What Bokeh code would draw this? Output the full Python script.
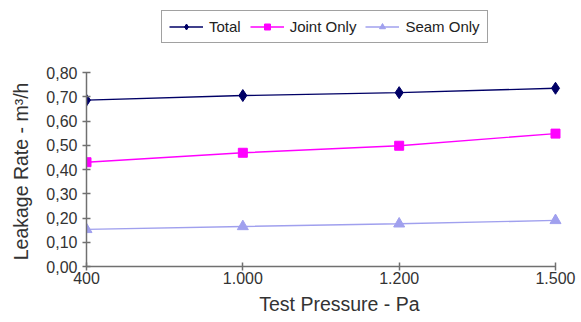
from bokeh.plotting import figure
from bokeh.models import FixedTicker, Legend, LegendItem
from bokeh.embed import file_html
from bokeh.resources import INLINE

categories = ["400", "1.000", "1.200", "1.500"]
total = [0.686, 0.705, 0.717, 0.735]
joint_only = [0.430, 0.469, 0.498, 0.548]
seam_only = [0.153, 0.165, 0.176, 0.190]
y_ticks = [0.0, 0.1, 0.2, 0.3, 0.4, 0.5, 0.6, 0.7, 0.8]
y_tick_labels = ["0,00", "0,10", "0,20", "0,30", "0,40", "0,50", "0,60", "0,70", "0,80"]

xs = list(range(len(categories)))

# frame spans to the canvas top and right edge; axes are bounded to the data area
W, H = 581, 322
LEFT, BOTTOM = 86, 56
x_end = (len(categories) - 1) * (W - LEFT) / (555 - LEFT)
y_end = 0.8 * (H - BOTTOM) / (266 - 72)

p = figure(width=W, height=H, output_backend="svg", toolbar_location=None,
           x_range=(0, x_end), y_range=(0, y_end),
           min_border_left=LEFT, min_border_right=0, min_border_top=0, min_border_bottom=BOTTOM)
p.outline_line_color = None
p.grid.visible = False
p.background_fill_color = "white"

FONT = "Liberation Sans"
AX = "#707070"
TXT = "#333333"

r1 = p.line(xs, total, line_color="#000066", line_width=1.4)
m1 = p.scatter(xs, total, marker="diamond", size=12, fill_color="#000066", line_color="#000066")
r2 = p.line(xs, joint_only, line_color="#ff00ff", line_width=1.4)
m2 = p.scatter(xs, joint_only, marker="square", size=9, fill_color="#ff00ff", line_color="#ff00ff")
r3 = p.line(xs, seam_only, line_color="#a0a0ee", line_width=1.4)
m3 = p.scatter(xs, seam_only, marker="triangle", size=11, fill_color="#a0a0ee", line_color="#a0a0ee")

p.xaxis.ticker = FixedTicker(ticks=xs)
p.xaxis.major_label_overrides = {i: c for i, c in enumerate(categories)}
p.xaxis.bounds = (0, len(categories) - 1)
p.yaxis.ticker = FixedTicker(ticks=y_ticks)
p.yaxis.major_label_overrides = {t: l for t, l in zip(y_ticks, y_tick_labels)}
p.yaxis.bounds = (0, 0.8)

for ax in (p.xaxis, p.yaxis):
    ax.axis_line_color = AX
    ax.axis_line_width = 1.5
    ax.major_tick_line_color = AX
    ax.major_tick_line_width = 1.5
    ax.major_tick_in = 4
    ax.major_tick_out = 4
    ax.minor_tick_line_color = None
    ax.major_label_text_font = FONT
    ax.major_label_text_font_size = "16px"
    ax.major_label_text_color = TXT
    ax.axis_label_text_font = FONT
    ax.axis_label_text_font_size = "19.5px"
    ax.axis_label_text_font_style = "normal"
    ax.axis_label_text_color = TXT

# trailing non-breaking spaces keep the rotated title centred on the 0-0.80 span
p.yaxis.axis_label = "Leakage Rate - m³/h" + "\u00a0" * 14
p.xaxis.axis_label = "\u00a0\u00a0Test Pressure - Pa"
p.xaxis.major_label_standoff = 1
p.yaxis.major_label_standoff = 5
p.yaxis.axis_label_standoff = 11
p.xaxis.axis_label_standoff = 6

legend = Legend(items=[
    LegendItem(label="Total", renderers=[r1, m1]),
    LegendItem(label="Joint Only", renderers=[r2, m2]),
    LegendItem(label="Seam Only", renderers=[r3, m3]),
], orientation="horizontal", location=(75, 223))
legend.border_line_color = "#444444"
legend.border_line_width = 1.5
legend.label_text_font = FONT
legend.label_text_font_size = "15px"
legend.label_text_color = "#222222"
legend.glyph_width = 34
legend.glyph_height = 15
legend.spacing = 9
legend.padding = 7
legend.margin = 0
legend.label_standoff = 6
legend.background_fill_alpha = 1
p.add_layout(legend, "center")

open("out.html", "w").write(file_html(p, INLINE))
